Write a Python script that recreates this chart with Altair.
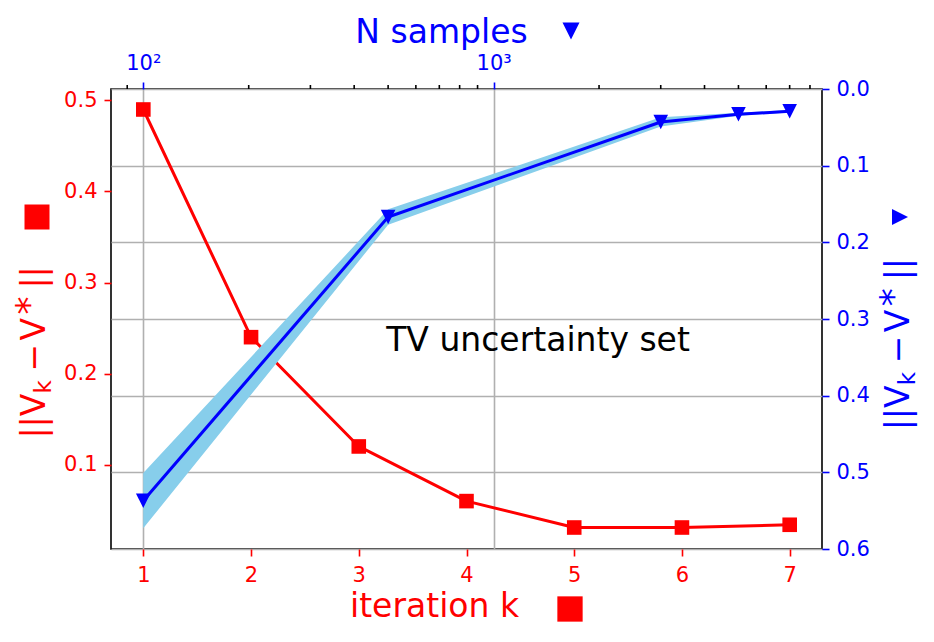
import altair as alt
import pandas as pd

# ---- data ----
iterations = [1, 2, 3, 4, 5, 6, 7]
err_iter = [0.49, 0.24, 0.12, 0.06, 0.031, 0.031, 0.034]

n_samples = [100, 500, 3000, 5000, 7000]
err_n = [0.537, 0.167, 0.043, 0.033, 0.029]
err_n_lo = [0.501, 0.157, 0.037, 0.031, 0.0275]
err_n_hi = [0.573, 0.177, 0.049, 0.035, 0.0305]

minor_ticks = [90, 200, 300, 400, 500, 600, 700, 800, 900,
               2000, 3000, 4000, 5000, 6000, 7000, 8000]

left_ticks = [0.1, 0.2, 0.3, 0.4, 0.5]
bottom_ticks = [1, 2, 3, 4, 5, 6, 7]
right_ticks = [0.0, 0.1, 0.2, 0.3, 0.4, 0.5, 0.6]
top_ticks = [100, 1000]

FONT = "DejaVu Sans"
RED = "#ff0000"
BLUE = "#0000ff"
BAND = "#87ceeb"
GRID = "#b0b0b0"

red_df = pd.DataFrame({"k": iterations, "v": err_iter})
blue_df = pd.DataFrame({"N": n_samples, "v": err_n, "lo": err_n_lo, "hi": err_n_hi})
minor_df = pd.DataFrame({"N": minor_ticks})

# ---- red (bottom / left) ----
x_red = alt.X(
    "k:Q",
    scale=alt.Scale(domain=[0.7, 7.3], nice=False, zero=False),
    axis=alt.Axis(
        orient="bottom", values=bottom_ticks, format="d", grid=False, domain=False,
        tickColor=RED, tickSize=7, tickWidth=1.6,
        labelColor=RED, labelFont=FONT, labelFontSize=21,
        labelBaseline="alphabetic", labelPadding=25,
        title="iteration k", titleColor=RED, titleFont=FONT, titleFontSize=33,
        titleFontWeight="normal", titleX=323, titleY=67, titleAlign="center",
        titleBaseline="alphabetic",
    ),
)
y_red = alt.Y(
    "v:Q",
    scale=alt.Scale(domain=[0.0074, 0.5125], nice=False, zero=False),
    axis=alt.Axis(
        orient="left", values=left_ticks, format=".1f", grid=False, domain=False,
        tickColor=RED, tickSize=7, tickWidth=1.6,
        labelColor=RED, labelFont=FONT, labelFontSize=21, labelPadding=7,
        labelBaseline="middle", title="",
    ),
)
red_base = alt.Chart(red_df).encode(x=x_red, y=y_red)
red_line = red_base.mark_line(color=RED, strokeWidth=3, strokeJoin="round")
red_pts = red_base.mark_point(shape="square", filled=True, size=213, color=RED, opacity=1)
red_layer = alt.layer(red_line, red_pts)

# ---- blue (top / right) ----
x_blue = alt.X(
    "N:Q",
    scale=alt.Scale(type="log", domain=[80.9, 8658], nice=False),
    axis=alt.Axis(
        orient="top", values=top_ticks, grid=True, gridColor=GRID, gridWidth=1.6,
        domain=False, tickColor=BLUE, tickSize=7, tickWidth=1.6,
        labelExpr="datum.value == 100 ? '10²' : '10³'",
        labelColor=BLUE, labelFont=FONT, labelFontSize=21,
        labelBaseline="alphabetic", labelPadding=13,
        title="N samples", titleColor=BLUE, titleFont=FONT, titleFontSize=33,
        titleFontWeight="normal", titleX=330, titleY=-47, titleAlign="center",
        titleBaseline="alphabetic",
    ),
)


def y_blue(field):
    return alt.Y(
        field,
        type="quantitative",
        scale=alt.Scale(domain=[0, 0.6], reverse=True, nice=False, zero=False),
        axis=alt.Axis(
            orient="right", values=right_ticks, format=".1f", grid=True, gridColor=GRID,
            gridWidth=1.6, domain=False, tickColor=BLUE, tickSize=7, tickWidth=1.6,
            labelColor=BLUE, labelFont=FONT, labelFontSize=21, labelPadding=7,
            labelBaseline="middle", title="",
        ),
    )


band = alt.Chart(blue_df).mark_area(color=BAND, opacity=1).encode(
    x=x_blue, y=y_blue("lo"), y2=alt.Y2("hi")
)
blue_base = alt.Chart(blue_df).encode(x=x_blue, y=y_blue("v"))
blue_line = blue_base.mark_line(color=BLUE, strokeWidth=3, strokeJoin="round")
TRI_DOWN = "M-1,-1L1,-1L0,1Z"
blue_pts = blue_base.mark_point(shape=TRI_DOWN, filled=True, size=213, color=BLUE, opacity=1)
minor = alt.Chart(minor_df).mark_rule(color="black", strokeWidth=1.6).encode(
    x=x_blue, y=alt.value(-4), y2=alt.value(0)
)
blue_layer = alt.layer(band, blue_line, blue_pts, minor)

# ---- vertical axis titles  ||V_k - V*||  built from text pieces ----
one = pd.DataFrame({"a": [0]})
title_pieces = [
    ("||V", 0, 0, 33),
    ("k", 45, 6, 23),
    ("−", 67, 0, 33),
    ("V", 98, 0, 33),
    ("*", 124, -4, 36),
    ("||", 150, 0, 33),
]


def vtitle(x0, y0, color):
    parts = []
    for txt, ddx, ddy, fs in title_pieces:
        parts.append(
            alt.Chart(one).mark_text(
                text=txt, font=FONT, fontSize=fs, color=color, angle=270,
                align="left", baseline="alphabetic", dx=ddx, dy=ddy,
            ).encode(x=alt.value(x0), y=alt.value(y0))
        )
    return alt.layer(*parts)


left_title = vtitle(-66, 349.6, RED)
right_title = vtitle(797.6, 341.3, BLUE)

# ---- decorations: title markers and annotation ----
mk_left = alt.Chart(one).mark_point(shape="square", filled=True, size=625, color=RED, opacity=1).encode(
    x=alt.value(-74), y=alt.value(128))
mk_bottom = alt.Chart(one).mark_point(shape="square", filled=True, size=640, color=RED, opacity=1).encode(
    x=alt.value(459), y=alt.value(520))
mk_top = alt.Chart(one).mark_point(shape=TRI_DOWN, filled=True, size=289, color=BLUE, opacity=1).encode(
    x=alt.value(460), y=alt.value(-58))
mk_right = alt.Chart(one).mark_point(shape="M-1,-1L1,0L-1,1Z", filled=True, size=256, color=BLUE, opacity=1).encode(
    x=alt.value(789), y=alt.value(128))
note = alt.Chart(one).mark_text(
    text="TV uncertainty set", font=FONT, fontSize=33, color="black",
    align="center", baseline="alphabetic"
).encode(x=alt.value(427), y=alt.value(262))

chart = (
    alt.layer(red_layer, blue_layer, left_title, right_title,
              mk_left, mk_bottom, mk_top, mk_right, note)
    .resolve_scale(x="independent", y="independent")
    .properties(
        width=711, height=460,
        padding={"left": 103, "top": 81, "right": 100, "bottom": 85},
        autosize=alt.AutoSizeParams(type="none"),
        background="white",
    )
    .configure_view(stroke="black", strokeWidth=1.6)
)

chart.save("out.html", embed_options={"renderer": "svg", "actions": False})
